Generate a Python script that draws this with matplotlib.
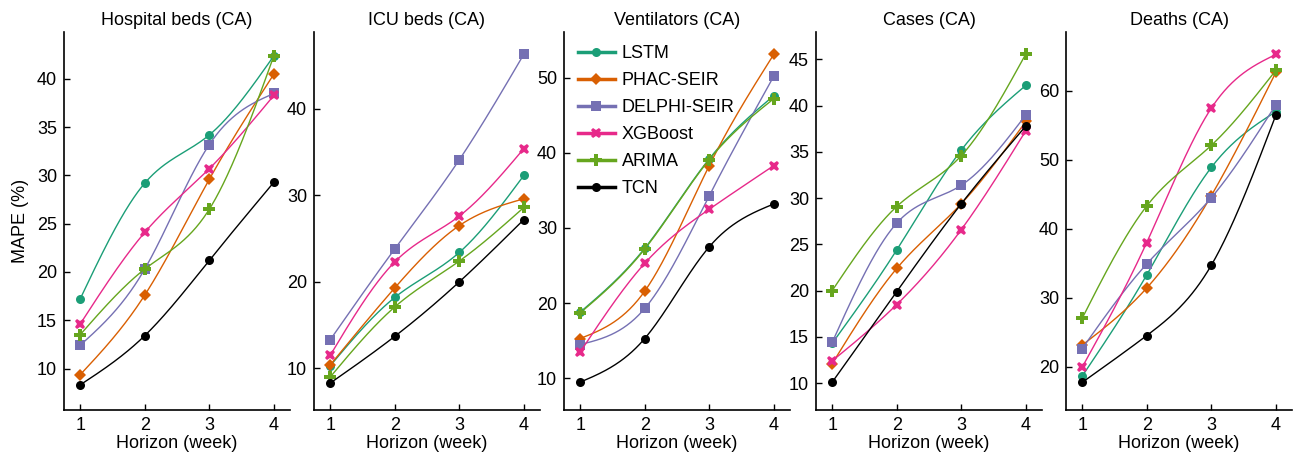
import numpy as np
import matplotlib.pyplot as plt
from matplotlib.lines import Line2D

plt.rcParams['font.family'] = ['Liberation Sans', 'DejaVu Sans']

horizon = [1, 2, 3, 4]
models = ['LSTM', 'PHAC-SEIR', 'DELPHI-SEIR', 'XGBoost', 'ARIMA', 'TCN']
titles = ['Hospital beds (CA)', 'ICU beds (CA)', 'Ventilators (CA)', 'Cases (CA)', 'Deaths (CA)']

# MAPE per model (rows follow `models`), one table per target
hospital_beds = [
    [17.2, 29.2, 34.2, 42.4],
    [9.35, 17.6, 29.6, 40.5],
    [12.4, 20.3, 33.2, 38.5],
    [14.6, 24.1, 30.7, 38.3],
    [13.5, 20.3, 26.5, 42.4],
    [8.3, 13.4, 21.2, 29.3],
]
icu_beds = [
    [10.3, 18.2, 23.4, 32.3],
    [10.4, 19.3, 26.5, 29.6],
    [13.3, 23.8, 34.1, 46.3],
    [11.5, 22.3, 27.6, 35.4],
    [9.0, 17.1, 22.4, 28.6],
    [8.3, 13.7, 20.0, 27.2],
]
ventilators = [
    [18.8, 27.3, 39.2, 47.6],
    [15.3, 21.6, 38.3, 53.1],
    [14.5, 19.3, 34.3, 50.2],
    [13.5, 25.3, 32.5, 38.3],
    [18.7, 27.2, 39.1, 47.2],
    [9.5, 15.3, 27.5, 33.2],
]
cases = [
    [14.3, 24.4, 35.2, 42.2],
    [12.1, 22.4, 29.4, 38.3],
    [14.4, 27.3, 31.4, 39.0],
    [12.4, 18.5, 26.6, 37.3],
    [20.0, 29.1, 34.6, 45.6],
    [10.1, 19.9, 29.4, 37.8],
]
deaths = [
    [18.6, 33.3, 48.9, 57.0],
    [23.1, 31.4, 44.8, 62.7],
    [22.6, 34.9, 44.5, 58.0],
    [19.9, 38.0, 57.5, 65.3],
    [27.0, 43.3, 52.1, 63.0],
    [17.7, 24.5, 34.7, 56.5],
]
panels = [hospital_beds, icu_beds, ventilators, cases, deaths]

y_limits = [(5.7, 44.9), (5.2, 48.9), (5.8, 56.1), (7.1, 48.0), (13.7, 68.6)]
y_ticks = [np.arange(10, 41, 5), np.arange(10, 41, 10), np.arange(10, 51, 10),
           np.arange(10, 46, 5), np.arange(20, 61, 10)]

colors = ['#1b9e77', '#d95f02', '#7570b3', '#e7298a', '#66a61e', 'black']
markers = ['o', 'D', 's', 'X', 'P', 'o']
msizes = [6.5, 6, 7, 7.5, 8, 6.5]


def natural_spline(x, y, n=200):
    """natural cubic spline through (x, y), evaluated on a fine grid"""
    x, y = np.asarray(x, float), np.asarray(y, float)
    k = len(x)
    h = np.diff(x)
    A = np.zeros((k, k))
    b = np.zeros(k)
    A[0, 0] = A[-1, -1] = 1
    for i in range(1, k - 1):
        A[i, i - 1] = h[i - 1]
        A[i, i] = 2 * (h[i - 1] + h[i])
        A[i, i + 1] = h[i]
        b[i] = 6 * ((y[i + 1] - y[i]) / h[i] - (y[i] - y[i - 1]) / h[i - 1])
    M = np.linalg.solve(A, b)
    xs = np.linspace(x[0], x[-1], n)
    seg = np.clip(np.searchsorted(x, xs) - 1, 0, k - 2)
    x0, x1 = x[seg], x[seg + 1]
    hh = x1 - x0
    ys = (M[seg] * (x1 - xs) ** 3 / (6 * hh) + M[seg + 1] * (xs - x0) ** 3 / (6 * hh)
          + (y[seg] / hh - M[seg] * hh / 6) * (x1 - xs)
          + (y[seg + 1] / hh - M[seg + 1] * hh / 6) * (xs - x0))
    return xs, ys


fs = 13
fig = plt.figure(figsize=(13.03, 4.57), dpi=100)
lefts = [64, 314, 564, 816, 1066]

axes = []
for p, data in enumerate(panels):
    ax = fig.add_axes([lefts[p] / 1303, 1 - 410 / 457, 226 / 1303, 378.3 / 457])
    axes.append(ax)
    for vals, c, m, ms in zip(data, colors, markers, msizes):
        xs, ys = natural_spline(horizon, vals)
        ax.plot(xs, ys, color=c, lw=1.0)
        ax.plot(horizon, vals, linestyle='none', marker=m, color=c, ms=ms,
                markeredgewidth=0)
    ax.set_xlim(0.75, 4.25)
    ax.set_ylim(y_limits[p])
    ax.set_xticks(horizon)
    ax.set_yticks(y_ticks[p])
    ax.set_title(titles[p], fontsize=fs, pad=5)
    ax.set_xlabel('Horizon (week)', fontsize=fs, labelpad=1)
    ax.spines['top'].set_visible(False)
    ax.spines['right'].set_visible(False)
    for s in ['left', 'bottom']:
        ax.spines[s].set_linewidth(1.2)
    ax.tick_params(direction='in', length=4, width=1, labelsize=fs, pad=5)

axes[0].set_ylabel('MAPE (%)', fontsize=fs, labelpad=6)

handles = [Line2D([], [], color=c, marker=m, lw=2.5, ms=ms, markeredgewidth=0)
           for c, m, ms in zip(colors, markers, msizes)]
axes[2].legend(handles, models, loc='upper left', frameon=False, fontsize=13,
               handlelength=2.05, handletextpad=0.4, labelspacing=0.55,
               borderaxespad=0.35, borderpad=0.4)

fig.savefig('out.png', dpi=100)
